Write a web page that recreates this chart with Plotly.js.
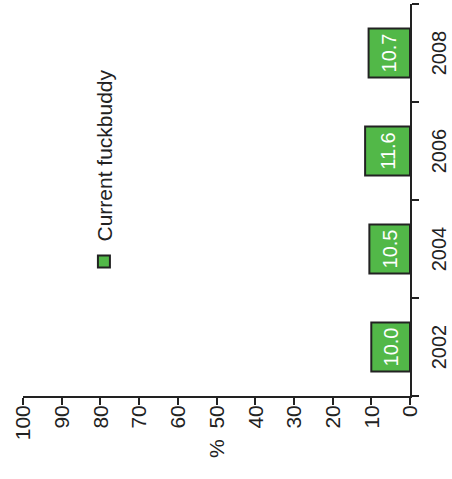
<!DOCTYPE html>
<html>
<head>
<meta charset="utf-8">
<script src="https://cdn.plot.ly/plotly-3.0.1.min.js"></script>
<style>
html, body { margin: 0; padding: 0; overflow: hidden; width: 452px; height: 479px; background: #fff; }
#chart { position: absolute; left: 0; top: 0; width: 479px; height: 452px;
  transform-origin: 0 0; transform: translate(0px, 479px) rotate(-90deg); }
</style>
</head>
<body>
<div id="chart"></div>
<script>
const years = ['2002', '2004', '2006', '2008'];
const values = [10.0, 10.5, 11.6, 10.7];
const seriesName = 'Current fuckbuddy';
const valueTicks = [0, 10, 20, 30, 40, 50, 60, 70, 80, 90, 100];
const axisTitle = '%';

const font = 'Liberation Sans, Arial, sans-serif';
const trace = {
  type: 'bar',
  x: years,
  y: values,
  name: seriesName,
  width: 0.5,
  marker: { color: '#52B848', line: { color: '#222', width: 2 } },
  text: values.map(v => v.toFixed(1)),
  textposition: 'inside',
  insidetextanchor: 'middle',
  constraintext: 'none',
  textangle: 0,
  textfont: { color: '#fff', size: 20, family: font },
  hoverinfo: 'skip',
  showlegend: true
};

const layout = {
  width: 479, height: 452,
  margin: { l: 83, r: 4, t: 23, b: 42 },
  paper_bgcolor: '#fff', plot_bgcolor: '#fff',
  font: { family: font, size: 20, color: '#222' },
  showlegend: true,
  legend: { x: 0.292, xanchor: 'left', y: 0.79, yanchor: 'middle',
    bgcolor: 'rgba(0,0,0,0)', font: { size: 21, family: font, color: '#222' } },
  xaxis: {
    type: 'category', range: [-0.5, 3.5], tickson: 'boundaries',
    ticks: 'outside', ticklen: 7, tickwidth: 2, tickcolor: '#222',
    showline: true, linecolor: '#222', linewidth: 2, showgrid: false, zeroline: false,
    ticklabelstandoff: 10,
    tickfont: { size: 20, family: font, color: '#222' }, fixedrange: true
  },
  yaxis: {
    range: [0, 100], tickvals: valueTicks, ticktext: valueTicks.map(String),
    ticks: 'outside', ticklen: 7, tickwidth: 2, tickcolor: '#222',
    showline: true, linecolor: '#222', linewidth: 2, showgrid: false, zeroline: false,
    ticklabelstandoff: -4,
    tickfont: { size: 21, family: font, color: '#222' }, fixedrange: true
  },
  annotations: [{
    text: axisTitle, xref: 'paper', yref: 'paper', x: 0, y: 0.5,
    xanchor: 'center', yanchor: 'middle', xshift: -53, showarrow: false,
    font: { size: 21, family: font, color: '#222' }
  }]
};

Plotly.newPlot('chart', [trace], layout, { displayModeBar: false, staticPlot: true });
</script>
</body>
</html>
